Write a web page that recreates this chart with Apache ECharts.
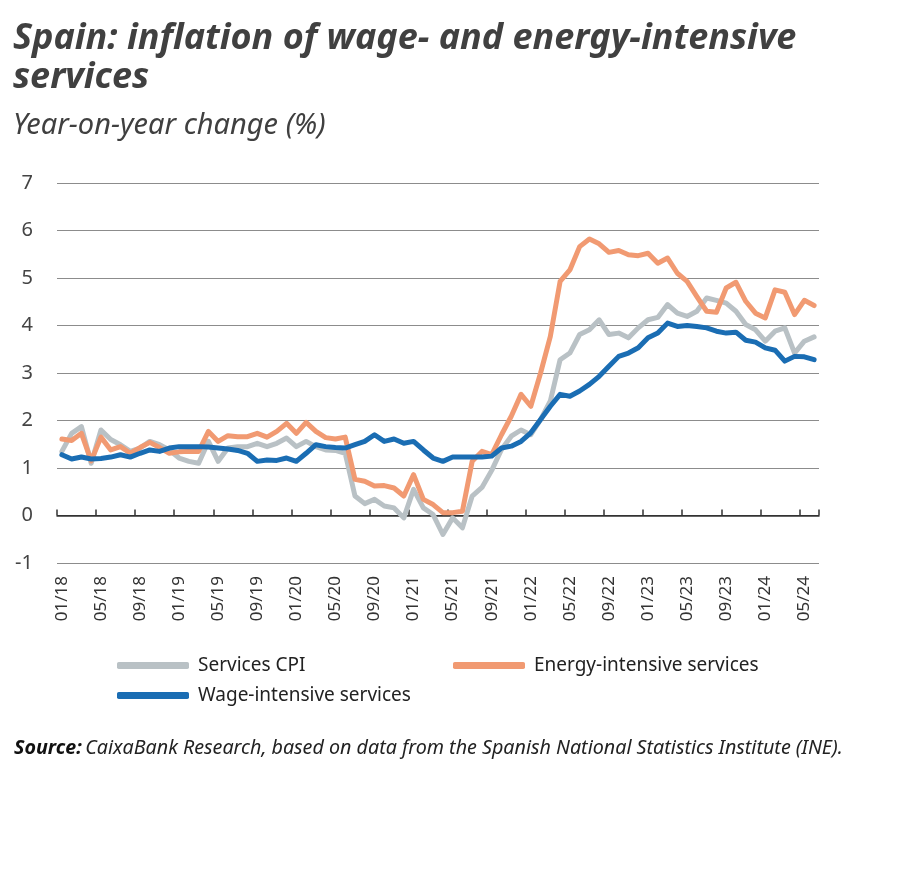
<!DOCTYPE html>
<html>
<head>
<meta charset="utf-8">
<script src="https://cdn.jsdelivr.net/npm/echarts@6/dist/echarts.min.js"></script>
<style>
html,body{margin:0;padding:0;background:#fff;}
#chart{width:900px;height:878px;}
</style>
</head>
<body>
<div id="chart"></div>
<script>
// Monthly categories Jan 2018 – Jun 2024
const months = [];
for (let y = 18; y <= 24; y++) {
  for (let m = 1; m <= 12; m++) {
    if (y === 24 && m > 6) break;
    months.push((m < 10 ? '0' + m : '' + m) + '/' + y);
  }
}

const servicesCPI = [
  1.35, 1.73, 1.87, 1.10, 1.80, 1.60, 1.49, 1.35, 1.42, 1.56, 1.49, 1.38,
  1.21, 1.14, 1.10, 1.56, 1.14, 1.42, 1.45, 1.45, 1.52, 1.45, 1.52, 1.63,
  1.45, 1.56, 1.45, 1.38, 1.37, 1.31, 0.41, 0.25, 0.34, 0.20, 0.16, -0.05,
  0.55, 0.16, 0.02, -0.40, -0.05, -0.26, 0.41, 0.59, 0.95, 1.39, 1.67, 1.80,
  1.70, 2.02, 2.41, 3.28, 3.42, 3.81, 3.91, 4.12, 3.81, 3.84, 3.74, 3.95,
  4.12, 4.17, 4.44, 4.26, 4.19, 4.30, 4.58, 4.53, 4.47, 4.30, 4.02, 3.91,
  3.67, 3.88, 3.95, 3.42, 3.67, 3.76
];

const energyIntensive = [
  1.61, 1.58, 1.73, 1.15, 1.65, 1.38, 1.45, 1.31, 1.43, 1.54, 1.43, 1.31,
  1.34, 1.35, 1.35, 1.77, 1.56, 1.68, 1.66, 1.66, 1.73, 1.65, 1.77, 1.94,
  1.73, 1.96, 1.77, 1.64, 1.61, 1.65, 0.76, 0.72, 0.62, 0.63, 0.58, 0.41,
  0.86, 0.34, 0.23, 0.06, 0.06, 0.09, 1.14, 1.35, 1.28, 1.70, 2.09, 2.55,
  2.30, 3.00, 3.77, 4.93, 5.17, 5.66, 5.82, 5.72, 5.54, 5.58, 5.49, 5.47,
  5.52, 5.31, 5.42, 5.10, 4.93, 4.61, 4.30, 4.28, 4.79, 4.91, 4.51, 4.26,
  4.16, 4.75, 4.70, 4.23, 4.53, 4.42
];

const wageIntensive = [
  1.28, 1.19, 1.23, 1.19, 1.20, 1.23, 1.28, 1.23, 1.31, 1.38, 1.35, 1.42,
  1.45, 1.45, 1.45, 1.44, 1.42, 1.40, 1.37, 1.31, 1.14, 1.17, 1.16, 1.21,
  1.14, 1.31, 1.49, 1.45, 1.43, 1.42, 1.49, 1.56, 1.70, 1.56, 1.61, 1.52,
  1.56, 1.38, 1.21, 1.14, 1.23, 1.23, 1.23, 1.23, 1.25, 1.42, 1.46, 1.56,
  1.74, 2.02, 2.30, 2.55, 2.51, 2.62, 2.76, 2.93, 3.14, 3.35, 3.42, 3.53,
  3.74, 3.84, 4.05, 3.98, 4.00, 3.98, 3.95, 3.88, 3.84, 3.86, 3.69, 3.65,
  3.53, 3.48, 3.25, 3.35, 3.34, 3.28
];

const seriesNames = ['Services CPI', 'Energy-intensive services', 'Wage-intensive services'];
const colors = ['#b9c1c5', '#f19a72', '#1a6db3'];

const FONT = 'Noto Sans';
const chart = echarts.init(document.getElementById('chart'), null, { renderer: 'canvas' });

const legendBase = {
  itemWidth: 72,
  itemHeight: 7,
  icon: 'roundRect',
  textStyle: { fontFamily: FONT, fontSize: 19, color: '#222', padding: [0, 0, 0, 4] },
  selectedMode: false
};

chart.setOption({
  animation: false,
  backgroundColor: '#fff',
  color: colors,
  title: [
    {
      text: 'Spain: inflation of wage- and energy-intensive\nservices',
      left: 8, top: 14,
      textStyle: { fontFamily: FONT, fontSize: 36, fontWeight: 'bold', fontStyle: 'italic', color: '#404040', lineHeight: 39 }
    },
    {
      text: 'Year-on-year change (%)',
      left: 8, top: 106,
      textStyle: { fontFamily: FONT, fontSize: 29, fontWeight: 'normal', fontStyle: 'italic', color: '#404040' }
    }
  ],
  legend: [
    Object.assign({ data: [seriesNames[0]], left: 112, top: 651 }, legendBase),
    Object.assign({ data: [seriesNames[1]], left: 448, top: 651 }, legendBase),
    Object.assign({ data: [seriesNames[2]], left: 112, top: 681 }, legendBase)
  ],
  grid: { left: 57, right: 81, top: 183, bottom: 315, containLabel: false },
  xAxis: [
    {
      type: 'category',
      data: months,
      boundaryGap: true,
      axisLine: { show: true, onZero: true, lineStyle: { color: '#333', width: 1.5 } },
      axisTick: { show: true, interval: 3, inside: true, length: 6, lineStyle: { color: '#333', width: 1.5 } },
      axisLabel: { show: false },
      splitLine: { show: false }
    },
    {
      type: 'category',
      data: months,
      position: 'bottom',
      boundaryGap: true,
      axisLine: { show: false, onZero: false },
      axisTick: { show: false },
      axisLabel: { show: true, interval: 3, rotate: 90, margin: 13, fontFamily: FONT, fontSize: 17, color: '#333' },
      splitLine: { show: false }
    }
  ],
  yAxis: {
    type: 'value',
    min: -1, max: 7, interval: 1,
    axisLine: { show: false },
    axisTick: { show: false },
    axisLabel: { margin: 24, fontFamily: FONT, fontSize: 20, color: '#444' },
    splitLine: { show: true, lineStyle: { color: ['#8c8c8c', '#333', '#8c8c8c', '#8c8c8c', '#8c8c8c', '#8c8c8c', '#8c8c8c', '#8c8c8c', '#8c8c8c'], width: 1 } }
  },
  series: [
    { name: seriesNames[0], type: 'line', data: servicesCPI, symbol: 'none', xAxisIndex: 0, lineStyle: { width: 5, cap: 'round', join: 'round' } },
    { name: seriesNames[1], type: 'line', data: energyIntensive, symbol: 'none', xAxisIndex: 0, lineStyle: { width: 5, cap: 'round', join: 'round' } },
    { name: seriesNames[2], type: 'line', data: wageIntensive, symbol: 'none', xAxisIndex: 0, lineStyle: { width: 5, cap: 'round', join: 'round' } }
  ],
  graphic: [
    {
      type: 'text',
      left: 14, top: 738,
      style: {
        text: '{b|Source:} {i|CaixaBank Research, based on data from the Spanish National Statistics Institute (INE).}',
        rich: {
          b: { fontFamily: FONT, fontSize: 19.7, fontWeight: 'bold', fontStyle: 'italic', fill: '#111' },
          i: { fontFamily: FONT, fontSize: 19.7, fontStyle: 'italic', fill: '#222' }
        }
      }
    }
  ]
});
</script>
</body>
</html>
